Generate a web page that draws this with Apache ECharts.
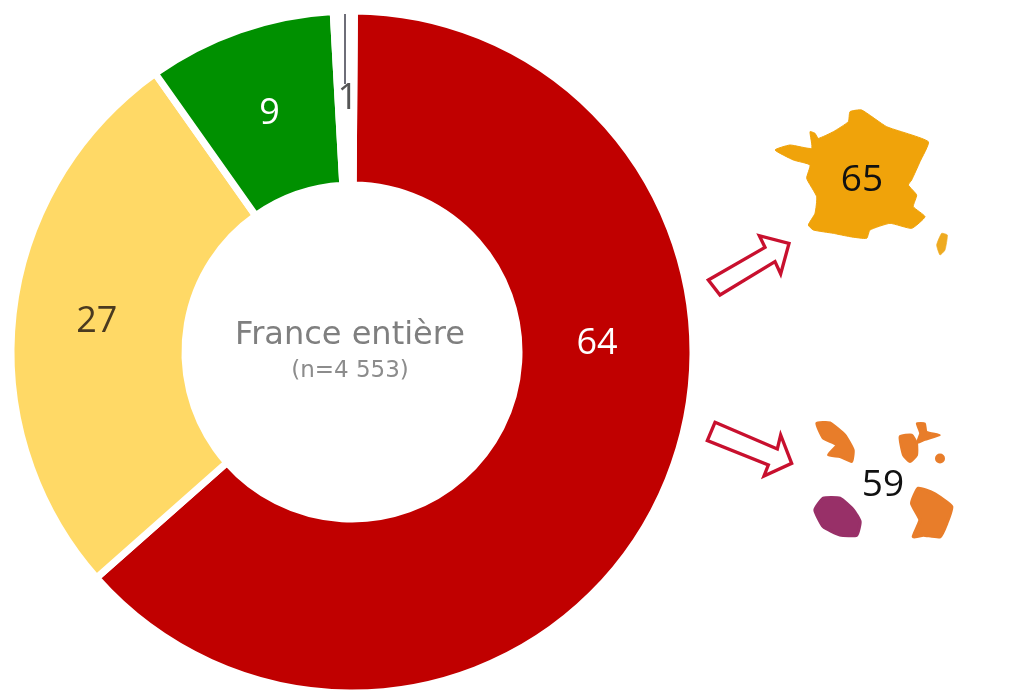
<!DOCTYPE html>
<html><head><meta charset="utf-8">
<script src="https://cdn.jsdelivr.net/npm/echarts@6/dist/echarts.min.js"></script>
<style>html,body{margin:0;padding:0;background:#fff}#c{width:1015px;height:690px}</style>
</head><body><div id="c"></div>
<script>
const categories = ['Rouge', 'Jaune', 'Vert', 'Gris'];
const values = [64, 27, 9, 1];
const colors = ['#c00000', '#ffd966', '#009000', '#ffffff'];
const labelColors = ['#ffffff', '#4a3a20', '#ffffff', '#555555'];
const centerTitle = 'France entière';
const centerSub = '(n=4 553)';
const metroValue = '65';
const domValue = '59';

const france = [[255,180],[300,165],[365,175],[360,125],[375,130],[385,145],[430,125],[475,95],[480,65],[515,60],[590,110],[715,155],[690,215],[665,270],[655,285],[680,315],[670,350],[705,380],[665,415],[600,400],[540,420],[530,445],[480,440],[430,430],[370,420],[355,405],[375,370],[380,320],[350,265],[360,225],[310,210]];
const corse = [[755,430],[772,435],[765,480],[750,495],[740,465]];
const arrowA = [[55,570],[225,472],[208,437],[297,460],[272,552],[255,515],[90,615]];
const arrowB = [[75,67],[262,147],[272,105],[305,190],[222,228],[235,195],[52,122]];
const guadeloupe = [[380,70],[420,68],[465,105],[490,150],[485,185],[450,170],[415,165],[440,135],[400,115]];
const martiniqueA = [[630,110],[665,105],[680,130],[680,165],[660,185],[640,165]];
const martiniqueB = [[680,70],[705,70],[710,95],[750,105],[705,120],[680,130],[690,100]];
const guyane = [[685,265],[730,280],[785,320],[770,370],[750,410],[700,405],[670,410],[690,360],[665,310]];
const reunion = [[375,330],[400,295],[450,295],[490,330],[510,365],[500,405],[450,405],[400,380]];

function poly(points, fill, ox, oy, sw) {
  return {
    type: 'polygon', x: ox, y: oy, scaleX: 1/3, scaleY: 1/3,
    shape: { points: points, smooth: 0.15 },
    style: { fill: fill, stroke: fill, lineWidth: sw || 0, lineJoin: 'round' }
  };
}
function arrow(points, ox, oy) {
  return { type: 'polygon', x: ox, y: oy, scaleX: 1/3, scaleY: 1/3,
    shape: { points: points },
    style: { fill: '#ffffff', stroke: '#c8102e', lineWidth: 10 } };
}
function txt(t, x, y, size, color, font) {
  return { type: 'text', x: x, y: y, z: 10,
    style: { text: t, fill: color, font: size + 'px ' + (font || '"Open Sans"'), align: 'center', verticalAlign: 'middle' } };
}

const chart = echarts.init(document.getElementById('c'), null, { renderer: 'canvas' });
chart.setOption({
  backgroundColor: '#ffffff',
  animation: false,
  series: [{
    type: 'pie',
    center: [352, 352],
    radius: [167, 341],
    startAngle: 89.6,
    clockwise: true,
    silent: true,
    data: categories.map((c, i) => ({
      name: c, value: values[i],
      itemStyle: { color: colors[i], borderColor: '#ffffff', borderWidth: 7 },
      label: { color: labelColors[i] }
    })),
    label: {
      show: true, position: 'inside', formatter: '{c}',
      fontSize: 36, fontFamily: 'Open Sans'
    },
    labelLine: { show: false },
    labelLayout: function (p) {
      if (p.dataIndex === 0) return { x: 597, y: 344, align: 'center', verticalAlign: 'middle' };
      if (p.dataIndex === 1) return { dy: -1 };
      return { dx: 2, dy: 4 };
    }
  }],
  graphic: [
    { type: 'line', z: 5, shape: { x1: 345, y1: 14, x2: 345, y2: 84 }, style: { stroke: '#6e6e78', lineWidth: 2 } },
    txt(centerTitle, 350, 336, 32, '#7f7f7f', '"DejaVu Sans"'),
    txt(centerSub, 350, 371, 23, '#8c8c8c', '"DejaVu Sans"'),
    poly(france, '#f0a30a', 690, 90, 3),
    poly(corse, '#eeaa20', 690, 90, 2),
    arrow(arrowA, 690, 90),
    arrow(arrowB, 690, 400),
    poly(guadeloupe, '#e87d2a', 690, 400, 8),
    poly(martiniqueA, '#e87d2a', 690, 400, 8),
    poly(martiniqueB, '#e87d2a', 690, 400, 5),
    { type: 'circle', shape: { cx: 940, cy: 458.5, r: 5 }, style: { fill: '#e87d2a' } },
    poly(guyane, '#e87d2a', 690, 400, 10),
    poly(reunion, '#983068', 690, 400, 10),
    txt(metroValue, 862, 180, 37, '#111111'),
    txt(domValue, 883, 485, 37, '#111111')
  ]
});
</script></body></html>
